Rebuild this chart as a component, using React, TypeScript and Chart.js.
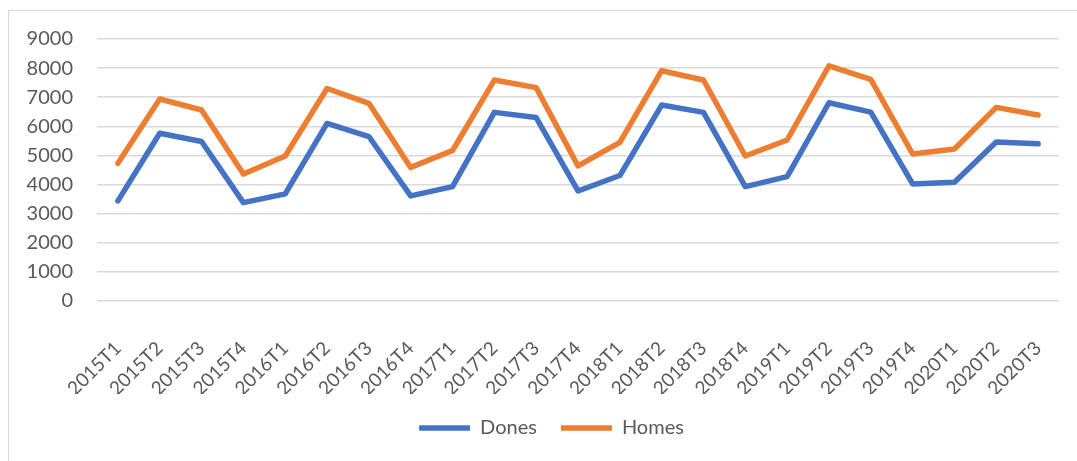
import React, { useEffect, useRef } from "react";
import { Chart, registerables } from "chart.js";

Chart.register(...registerables);

const categories = [
  "2015T1", "2015T2", "2015T3", "2015T4",
  "2016T1", "2016T2", "2016T3", "2016T4",
  "2017T1", "2017T2", "2017T3", "2017T4",
  "2018T1", "2018T2", "2018T3", "2018T4",
  "2019T1", "2019T2", "2019T3", "2019T4",
  "2020T1", "2020T2", "2020T3",
];

const dones = [
  3440, 5760, 5480, 3380,
  3680, 6100, 5650, 3610,
  3930, 6480, 6300, 3780,
  4310, 6730, 6480, 3930,
  4270, 6810, 6490, 4020,
  4080, 5460, 5400,
];

const homes = [
  4730, 6940, 6560, 4360,
  4980, 7300, 6790, 4590,
  5170, 7590, 7330, 4640,
  5450, 7910, 7590, 4980,
  5530, 8080, 7610, 5050,
  5220, 6650, 6390,
];

const yTicks = [0, 1000, 2000, 3000, 4000, 5000, 6000, 7000, 8000, 9000];

const seriesNames = ["Dones", "Homes"];
const seriesColors = ["#4472C4", "#ED7D31"];

const FONT = "Lato, 'Open Sans', sans-serif";
const TEXT = "#595959";

const legendShift = {
  id: "legendShift",
  afterLayout(chart: any) {
    const l = chart.legend;
    if (l) {
      l.left += 12;
      l.right += 12;
    }
  },
};

export default function App() {
  const ref = useRef<HTMLCanvasElement | null>(null);

  useEffect(() => {
    if (!ref.current) return;
    const chart = new Chart(ref.current, {
      type: "line",
      data: {
        labels: categories,
        datasets: [dones, homes].map((d, i) => ({
          label: seriesNames[i],
          data: d,
          borderColor: seriesColors[i],
          backgroundColor: seriesColors[i],
          borderWidth: 5.5,
          borderCapStyle: "round" as const,
          borderJoinStyle: "round" as const,
          pointRadius: 0,
          pointHoverRadius: 0,
          tension: 0,
          fill: false,
        })),
      },
      plugins: [legendShift],
      options: {
        animation: false,
        responsive: false,
        maintainAspectRatio: false,
        layout: { padding: { left: 20, right: 18, top: 39, bottom: 13 } },
        plugins: {
          title: { display: false },
          tooltip: { enabled: false },
          legend: {
            position: "bottom",
            labels: {
              usePointStyle: true,
              pointStyle: "line",
              pointStyleWidth: 51,
              padding: 24,
              color: TEXT,
              font: { family: FONT, size: 20 },
            },
          },
        },
        scales: {
          x: {
            offset: true,
            grid: { display: false, drawTicks: false },
            border: { display: false },
            ticks: {
              autoSkip: false,
              maxRotation: 45,
              minRotation: 45,
              padding: 36,
              color: TEXT,
              font: { family: FONT, size: 19 },
            },
            afterFit: (s: any) => {
              s.height = 93;
              s.paddingLeft = 0;
              s.paddingRight = 0;
            },
          },
          y: {
            min: 0,
            max: 9000,
            afterBuildTicks: (s: any) => {
              s.ticks = yTicks.map((v) => ({ value: v }));
            },
            grid: { color: "#d9d9d9", lineWidth: 1.5, drawTicks: false },
            border: { display: false },
            ticks: {
              padding: 24,
              color: TEXT,
              font: { family: FONT, size: 20 },
              callback: (v: any) => String(v),
            },
            afterFit: (s: any) => {
              s.width = 77;
            },
          },
        },
      },
    });
    return () => chart.destroy();
  }, []);

  return (
    <div style={{ position: "absolute", left: 0, top: 0, width: 1077, height: 461, overflow: "hidden", background: "#fff" }}>
      <div
        style={{
          position: "absolute",
          left: 8,
          top: 10,
          width: 1200,
          height: 600,
          border: "1.5px solid #d9d9d9",
          boxSizing: "border-box",
        }}
      />
      <canvas ref={ref} width={1077} height={461} style={{ position: "absolute", left: 0, top: 0, width: 1077, height: 461 }} />
    </div>
  );
}
